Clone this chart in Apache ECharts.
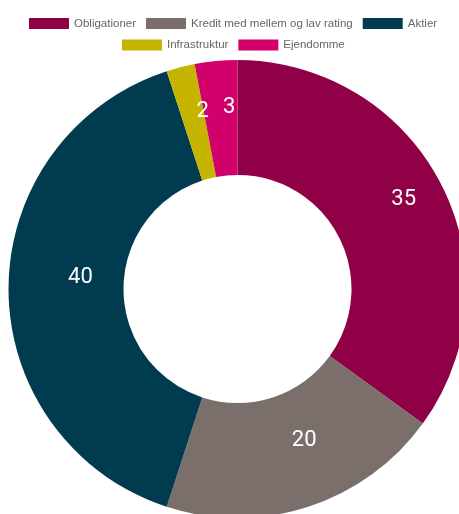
<!DOCTYPE html>
<html>
<head>
<meta charset="utf-8">
<script src="https://cdn.jsdelivr.net/npm/echarts@6/dist/echarts.min.js"></script>
<style>
html,body{margin:0;padding:0;background:#fff;}
#c{width:459px;height:514px;}
</style>
</head>
<body>
<div id="c"></div>
<script>
const categories = ['Obligationer', 'Kredit med mellem og lav rating', 'Aktier', 'Infrastruktur', 'Ejendomme'];
const values = [35, 20, 40, 2, 3];
const colors = ['#8f0047', '#7b6f6c', '#003b50', '#c5b400', '#d2006b'];

const pieCenter = [237.5, 289];
const pieRadius = [114, 229];
const labelRadius = 168;
const labelCenterY = 288.5;

const chart = echarts.init(document.getElementById('c'), null, {renderer: 'canvas'});
const legendCommon = {
  orient: 'horizontal',
  itemWidth: 40,
  itemHeight: 11,
  itemGap: 10,
  icon: 'rect',
  padding: 0,
  textStyle: {color: '#666', fontSize: 11.5, fontFamily: 'Liberation Sans, Arial, sans-serif', lineHeight: 14},
  selectedMode: false
};
const option = {
  animation: false,
  color: colors,
  legend: [
    Object.assign({}, legendCommon, {top: 16.5, left: 29, data: categories.slice(0, 3)}),
    Object.assign({}, legendCommon, {top: 38, left: 122, data: categories.slice(3)})
  ],
  series: [{
    type: 'pie',
    center: pieCenter,
    radius: pieRadius,
    startAngle: 90,
    clockwise: true,
    avoidLabelOverlap: false,
    label: {
      show: true,
      position: 'inside',
      formatter: '{c}',
      color: '#fff',
      fontSize: 22,
      fontFamily: 'Roboto, sans-serif',
      textBorderWidth: 0
    },
    labelLine: {show: false},
    labelLayout: function (p) {
      const r = p.labelRect;
      const lx = r.x + r.width / 2, ly = r.y + r.height / 2;
      const mid = (pieRadius[0] + pieRadius[1]) / 2;
      const ux = (lx - pieCenter[0]) / mid, uy = (ly - pieCenter[1]) / mid;
      const nx = pieCenter[0] + labelRadius * ux + r.width / 2 + 1.5;
      const ny = labelCenterY + labelRadius * uy - r.height / 2;
      return {dx: nx - lx, dy: ny - ly};
    },
    itemStyle: {borderWidth: 0},
    emphasis: {disabled: true},
    data: categories.map((n, i) => ({name: n, value: values[i]}))
  }]
};
chart.setOption(option);
</script>
</body>
</html>
